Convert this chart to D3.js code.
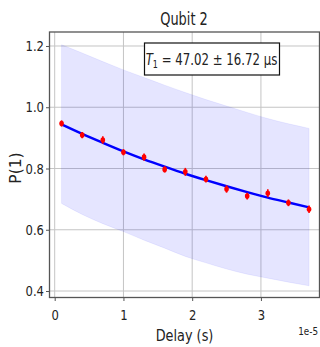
<!DOCTYPE html>
<html>
<head>
<meta charset="utf-8">
<script src="https://cdn.jsdelivr.net/npm/d3@7"></script>
<style>
  html, body { margin: 0; padding: 0; background: #fff; }
  svg { display: block; }
  text { font-family: "DejaVu Sans", sans-serif; fill: #222; }
</style>
</head>
<body>
<div id="chart"></div>
<script>
// measured delays (s)
const delays = [1e-6, 4e-6, 7e-6, 1.0e-5, 1.3e-5, 1.6e-5, 1.9e-5, 2.2e-5, 2.5e-5, 2.8e-5, 3.1e-5, 3.4e-5, 3.7e-5];
// measured P(1) and error bars
const p1 = [0.947, 0.909, 0.893, 0.853, 0.837, 0.797, 0.789, 0.765, 0.733, 0.710, 0.719, 0.688, 0.667];
const p1Err = [0.010, 0.010, 0.012, 0.010, 0.012, 0.010, 0.013, 0.011, 0.012, 0.011, 0.013, 0.011, 0.012];
// fitted curve at each delay
const fitCurve = [0.944, 0.913, 0.884, 0.856, 0.830, 0.806, 0.783, 0.762, 0.742, 0.723, 0.705, 0.689, 0.673];
// confidence band (T1 +/- error)
const bandUpper = [1.204, 1.177, 1.149, 1.122, 1.097, 1.072, 1.048, 1.025, 1.004, 0.983, 0.963, 0.946, 0.931];
const bandLower = [0.686, 0.650, 0.620, 0.594, 0.566, 0.540, 0.513, 0.492, 0.472, 0.455, 0.442, 0.429, 0.417];
const xTicks = [0, 1e-5, 2e-5, 3e-5];
const yTicks = [0.4, 0.6, 0.8, 1.0, 1.2];
const title = 'Qubit 2';
const xLabel = 'Delay (s)';
const yLabel = 'P(1)';
const offsetLabel = '1e-5';

const width = 320, height = 347;
const sx = 0.8; // text looks horizontally squeezed

const svg = d3.select('#chart').append('svg')
  .attr('width', width)
  .attr('height', height);

const x = d3.scaleLinear().domain([-0.0756e-5, 3.852e-5]).range([49.5, 319.5]);
const y = d3.scaleLinear().domain([0.3788, 1.2457]).range([297.5, 32]);

const plot = svg.append('g');

// grid
plot.selectAll('line.gx').data(xTicks).join('line')
  .attr('x1', d => x(d)).attr('x2', d => x(d))
  .attr('y1', y.range()[1]).attr('y2', y.range()[0])
  .attr('stroke', '#c4c4c4').attr('stroke-width', 1);
plot.selectAll('line.gy').data(yTicks).join('line')
  .attr('x1', x.range()[0]).attr('x2', x.range()[1])
  .attr('y1', d => y(d)).attr('y2', d => y(d))
  .attr('stroke', '#c4c4c4').attr('stroke-width', 1);

// band
const idx = d3.range(delays.length);
const area = d3.area()
  .x(i => x(delays[i]))
  .y0(i => y(bandLower[i]))
  .y1(i => y(bandUpper[i]))
  .curve(d3.curveMonotoneX);
plot.append('path').datum(idx)
  .attr('d', area)
  .attr('fill', 'blue').attr('fill-opacity', 0.1)
  .attr('stroke', 'blue').attr('stroke-opacity', 0.06);

// fit line
const line = d3.line()
  .x(i => x(delays[i]))
  .y(i => y(fitCurve[i]))
  .curve(d3.curveMonotoneX);
plot.append('path').datum(idx)
  .attr('d', line)
  .attr('fill', 'none')
  .attr('stroke', 'blue').attr('stroke-width', 2.5);

// error bars + points
plot.selectAll('line.err').data(idx).join('line')
  .attr('x1', i => x(delays[i])).attr('x2', i => x(delays[i]))
  .attr('y1', i => y(p1[i] - p1Err[i])).attr('y2', i => y(p1[i] + p1Err[i]))
  .attr('stroke', 'red').attr('stroke-width', 1.6);
plot.selectAll('ellipse.pt').data(idx).join('ellipse')
  .attr('cx', i => x(delays[i])).attr('cy', i => y(p1[i]))
  .attr('rx', 2.3).attr('ry', 2.8)
  .attr('fill', 'red');

// axes
const fmtX = d => d3.format('d')(Math.round(d / 1e-5));
const xAxis = svg.append('g')
  .attr('transform', `translate(0,${y.range()[0]})`)
  .call(d3.axisBottom(x).tickValues(xTicks).tickFormat(fmtX).tickSizeOuter(0).tickSize(3.5));
const yAxis = svg.append('g')
  .attr('transform', `translate(${x.range()[0]},0)`)
  .call(d3.axisLeft(y).tickValues(yTicks).tickFormat(d3.format('.1f')).tickSizeOuter(0).tickSize(3.5));

[xAxis, yAxis].forEach(a => {
  a.select('.domain').remove();
  a.selectAll('.tick line').attr('stroke', '#555');
  a.selectAll('.tick text').attr('font-size', 14.5).attr('fill', '#222');
});
xAxis.selectAll('.tick text')
  .attr('y', 0).attr('dy', 0)
  .attr('transform', `translate(0,22.5) scale(${sx},1)`);
yAxis.selectAll('.tick text')
  .attr('x', 0)
  .attr('transform', `translate(-5.5,0) scale(${sx},1)`);

// spines
svg.append('rect')
  .attr('x', x.range()[0]).attr('y', y.range()[1])
  .attr('width', x.range()[1] - x.range()[0])
  .attr('height', y.range()[0] - y.range()[1])
  .attr('fill', 'none').attr('stroke', '#555').attr('stroke-width', 1.3);

function label(txt, px, py, size, anchor, squeeze) {
  return svg.append('text')
    .attr('transform', `translate(${px},${py}) scale(${squeeze || sx},1)`)
    .attr('text-anchor', anchor || 'middle')
    .attr('font-size', size)
    .text(txt);
}

label(title, 184, 25, 17.5, 'middle', 0.74);
label(xLabel, 184.5, 341, 16.5, 'middle', 0.78);
label(offsetLabel, 318, 335, 11, 'end');

svg.append('text')
  .attr('transform', 'translate(21,168) rotate(-90)')
  .attr('text-anchor', 'middle')
  .attr('font-family', '"DejaVu Sans Mono", monospace')
  .attr('font-size', 15.5)
  .text(yLabel);

// T1 annotation box
svg.append('rect')
  .attr('x', 144.5).attr('y', 43)
  .attr('width', 135).attr('height', 32)
  .attr('fill', '#fff').attr('stroke', '#111').attr('stroke-width', 1.2);
const t1 = svg.append('text')
  .attr('transform', `translate(211.5,64.5) scale(0.76,1)`)
  .attr('text-anchor', 'middle')
  .attr('font-size', 15.5);
t1.append('tspan').attr('font-style', 'italic').text('T');
t1.append('tspan').attr('font-size', 10.5).attr('dy', 3).text('1');
t1.append('tspan').attr('dy', -3).text(' = 47.02 ± 16.72 µs');
</script>
</body>
</html>
